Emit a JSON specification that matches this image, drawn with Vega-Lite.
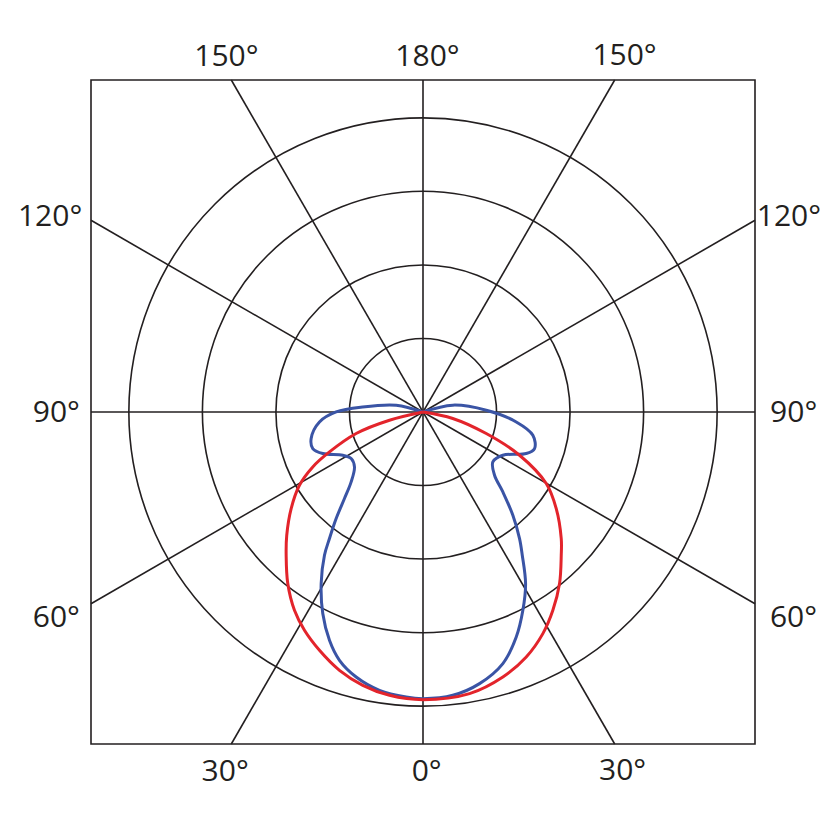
{
  "$schema": "https://vega.github.io/schema/vega-lite/v6.json",
  "autosize": "none",
  "width": 664,
  "height": 664,
  "padding": {"left": 91, "top": 80, "right": 85, "bottom": 78},
  "background": "white",
  "config": {"view": {"stroke": "#231f20", "strokeWidth": 1.6}},
  "datasets": {
    "rings": [
      {"x": 0, "y": 0, "r": 1},
      {"x": 0, "y": 0, "r": 2},
      {"x": 0, "y": 0, "r": 3},
      {"x": 0, "y": 0, "r": 4}
    ],
    "spokes": [
      {"x": 0, "y": -4.515, "x2": 0, "y2": 4.515},
      {"x": -4.515, "y": 0, "x2": 4.515, "y2": 0},
      {"x": -2.607, "y": -4.515, "x2": 2.607, "y2": 4.515},
      {"x": 2.607, "y": -4.515, "x2": -2.607, "y2": 4.515},
      {"x": -4.515, "y": -2.607, "x2": 4.515, "y2": 2.607},
      {"x": 4.515, "y": -2.607, "x2": -4.515, "y2": 2.607}
    ],
    "narrow": [
      {"i": 1, "x": 0, "y": 0},
      {"i": 2, "x": -0.365, "y": 0.093},
      {"i": 3, "x": -0.823, "y": 0.069},
      {"i": 4, "x": -1.181, "y": 0.001},
      {"i": 5, "x": -1.408, "y": -0.135},
      {"i": 6, "x": -1.521, "y": -0.361},
      {"i": 7, "x": -1.499, "y": -0.497},
      {"i": 8, "x": -1.363, "y": -0.565},
      {"i": 9, "x": -1.091, "y": -0.588},
      {"i": 10, "x": -0.977, "y": -0.633},
      {"i": 11, "x": -0.932, "y": -0.747},
      {"i": 12, "x": -0.977, "y": -0.951},
      {"i": 13, "x": -1.068, "y": -1.177},
      {"i": 14, "x": -1.181, "y": -1.449},
      {"i": 15, "x": -1.272, "y": -1.721},
      {"i": 16, "x": -1.34, "y": -1.948},
      {"i": 17, "x": -1.385, "y": -2.333},
      {"i": 18, "x": -1.363, "y": -2.741},
      {"i": 19, "x": -1.272, "y": -3.105},
      {"i": 20, "x": -1.136, "y": -3.377},
      {"i": 21, "x": -0.909, "y": -3.604},
      {"i": 22, "x": -0.592, "y": -3.785},
      {"i": 23, "x": -0.229, "y": -3.876},
      {"i": 24, "x": 0, "y": -3.898},
      {"i": 25, "x": 0.405, "y": -3.853},
      {"i": 26, "x": 0.769, "y": -3.694},
      {"i": 27, "x": 1.086, "y": -3.422},
      {"i": 28, "x": 1.268, "y": -3.06},
      {"i": 29, "x": 1.358, "y": -2.697},
      {"i": 30, "x": 1.395, "y": -2.333},
      {"i": 31, "x": 1.35, "y": -1.948},
      {"i": 32, "x": 1.313, "y": -1.721},
      {"i": 33, "x": 1.222, "y": -1.404},
      {"i": 34, "x": 1.086, "y": -1.087},
      {"i": 35, "x": 0.973, "y": -0.86},
      {"i": 36, "x": 0.95, "y": -0.679},
      {"i": 37, "x": 1.086, "y": -0.588},
      {"i": 38, "x": 1.404, "y": -0.565},
      {"i": 39, "x": 1.517, "y": -0.497},
      {"i": 40, "x": 1.494, "y": -0.316},
      {"i": 41, "x": 1.268, "y": -0.135},
      {"i": 42, "x": 0.86, "y": 0.024},
      {"i": 43, "x": 0.405, "y": 0.093},
      {"i": 44, "x": 0, "y": 0}
    ],
    "wide": [
      {"i": 1, "x": 0, "y": 0},
      {"i": 2, "x": -0.456, "y": -0.112},
      {"i": 3, "x": -0.909, "y": -0.293},
      {"i": 4, "x": -1.272, "y": -0.543},
      {"i": 5, "x": -1.499, "y": -0.747},
      {"i": 6, "x": -1.68, "y": -0.996},
      {"i": 7, "x": -1.793, "y": -1.313},
      {"i": 8, "x": -1.853, "y": -1.676},
      {"i": 9, "x": -1.861, "y": -1.948},
      {"i": 10, "x": -1.839, "y": -2.333},
      {"i": 11, "x": -1.748, "y": -2.697},
      {"i": 12, "x": -1.612, "y": -2.969},
      {"i": 13, "x": -1.408, "y": -3.241},
      {"i": 14, "x": -1.136, "y": -3.513},
      {"i": 15, "x": -0.819, "y": -3.717},
      {"i": 16, "x": -0.456, "y": -3.853},
      {"i": 17, "x": 0, "y": -3.912},
      {"i": 18, "x": 0.633, "y": -3.83},
      {"i": 19, "x": 1.086, "y": -3.604},
      {"i": 20, "x": 1.404, "y": -3.332},
      {"i": 21, "x": 1.63, "y": -3.014},
      {"i": 22, "x": 1.766, "y": -2.697},
      {"i": 23, "x": 1.857, "y": -2.333},
      {"i": 24, "x": 1.88, "y": -1.948},
      {"i": 25, "x": 1.88, "y": -1.721},
      {"i": 26, "x": 1.812, "y": -1.313},
      {"i": 27, "x": 1.676, "y": -0.973},
      {"i": 28, "x": 1.313, "y": -0.588},
      {"i": 29, "x": 0.86, "y": -0.293},
      {"i": 30, "x": 0.405, "y": -0.088},
      {"i": 31, "x": 0, "y": 0}
    ],
    "labels": [
      {"x": 0.061, "y": 4.709, "text": "180°"},
      {"x": -2.673, "y": 4.709, "text": "150°"},
      {"x": 2.741, "y": 4.715, "text": "150°"},
      {"x": -5.071, "y": 2.535, "text": "120°"},
      {"x": 4.976, "y": 2.528, "text": "120°"},
      {"x": -4.986, "y": -0.135, "text": "90°"},
      {"x": 5.041, "y": -0.135, "text": "90°"},
      {"x": -4.986, "y": -2.92, "text": "60°"},
      {"x": 5.038, "y": -2.92, "text": "60°"},
      {"x": -2.69, "y": -5.019, "text": "30°"},
      {"x": 0.05, "y": -5.019, "text": "0°"},
      {"x": 2.714, "y": -5.01, "text": "30°"}
    ]
  },
  "encoding": {
    "x": {"field": "x", "type": "quantitative", "scale": {"domain": [-4.515, 4.515], "nice": false, "zero": false}, "axis": null},
    "y": {"field": "y", "type": "quantitative", "scale": {"domain": [-4.515, 4.515], "nice": false, "zero": false}, "axis": null}
  },
  "layer": [
    {
      "data": {"name": "spokes"},
      "mark": {"type": "rule", "color": "#231f20", "strokeWidth": 1.6},
      "encoding": {
        "x2": {"field": "x2"},
        "y2": {"field": "y2"}
      }
    },
    {
      "data": {"name": "rings"},
      "mark": {"type": "point", "shape": "circle", "filled": false, "stroke": "#231f20", "strokeWidth": 1.6, "opacity": 1},
      "encoding": {
        "size": {"field": "r", "type": "quantitative", "scale": {"type": "pow", "exponent": 2, "domain": [0, 4], "range": [0, 346070]}, "legend": null}
      }
    },
    {
      "data": {"name": "narrow"},
      "mark": {"type": "line", "color": "#3a54a5", "strokeWidth": 3, "interpolate": "catmull-rom"},
      "encoding": {"order": {"field": "i", "type": "quantitative"}}
    },
    {
      "data": {"name": "wide"},
      "mark": {"type": "line", "color": "#e3242b", "strokeWidth": 3, "interpolate": "catmull-rom"},
      "encoding": {"order": {"field": "i", "type": "quantitative"}}
    },
    {
      "data": {"name": "labels"},
      "mark": {"type": "text", "font": "Open Sans", "fontSize": 30, "color": "#231f20", "align": "center", "baseline": "alphabetic"},
      "encoding": {"text": {"field": "text"}}
    }
  ]
}
